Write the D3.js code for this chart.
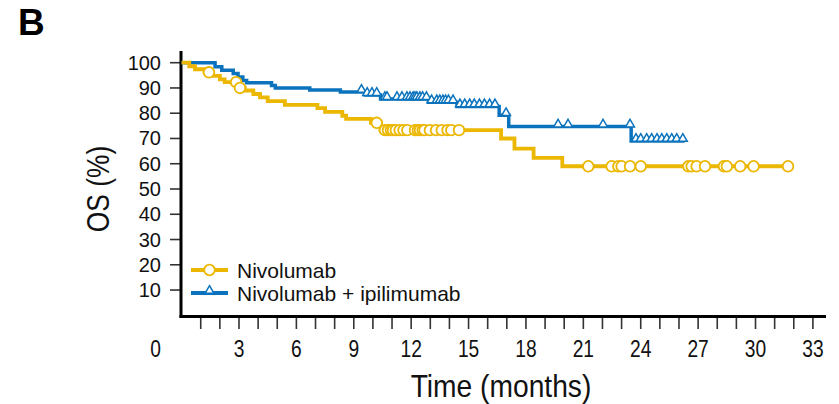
<!DOCTYPE html>
<html><head><meta charset="utf-8">
<script src="https://cdn.jsdelivr.net/npm/d3@7"></script>
<style>
html,body{margin:0;padding:0;background:#fff;}
svg{display:block;}
</style></head>
<body>
<svg id="chart" width="839" height="404"></svg>
<script>
// ---- data ----
const seriesNames = ["Nivolumab", "Nivolumab + ipilimumab"];
// Kaplan-Meier steps [month, OS %]
const nivoSteps = [[0,100],[0.4,98.6],[0.7,97.4],[1.2,96.2],[1.65,94.8],[2.0,93.4],[2.25,92.3],[2.95,90.0],[3.3,89.0],[3.75,87.6],[4.1,86.3],[4.5,84.8],[5.4,83.3],[7.1,82.0],[7.5,80.5],[8.4,79.0],[8.6,77.8],[9.9,76.2],[10.4,73.3],[16.7,70.0],[17.4,66.0],[18.4,62.3],[19.9,59.0],[31.75,59.0]];
const nivoCensor = [1.43,2.85,3.05,10.2,10.63,10.79,10.94,11.05,11.2,11.4,11.6,11.8,12.2,12.35,12.46,12.6,12.7,12.98,13.3,13.6,13.9,14.1,14.5,21.26,22.48,22.83,23.0,23.44,24.0,26.49,26.66,26.92,27.36,28.35,28.5,29.2,29.9,31.7];
const comboSteps = [[0,100],[1.75,98.4],[2.1,97.0],[2.7,95.7],[2.95,94.3],[3.2,93.0],[3.4,92.1],[4.7,91.0],[4.9,90.0],[6.7,89.2],[8.3,88.4],[9.6,87.2],[10.4,85.6],[12.9,84.3],[14.4,82.7],[16.6,79.2],[17.1,74.7],[23.5,69.0],[26.3,69.0]];
const comboCensor = [9.4,9.7,9.95,10.2,10.63,10.74,11.26,11.52,11.78,11.94,12.1,12.2,12.3,12.46,12.6,12.8,13.07,13.34,13.5,13.66,13.8,13.95,14.19,14.55,14.8,15.06,15.3,15.57,15.83,16.1,16.38,16.96,19.68,20.2,22.03,23.44,23.75,24.0,24.31,24.57,24.85,25.1,25.36,25.62,25.88,26.2];
const yTicks = [10,20,30,40,50,60,70,80,90,100];
const xMinorTicks = d3.range(1,34);
const xTickLabels = [0,3,6,9,12,15,18,21,24,27,30,33];

const YELLOW = "#EBB700", BLUE = "#0B73BD";
const FONT = "Liberation Sans, Arial, sans-serif";
const svg = d3.select("#chart");
const x = d3.scaleLinear().domain([0,33]).range([181.6,812.9]);
const y = d3.scaleLinear().domain([0,100]).range([315.3,62.7]);

// panel label
svg.append("text").attr("x",18).attr("y",35).attr("font-family",FONT)
  .attr("font-weight","bold").attr("font-size",37).text("B");

// y ticks
const gy = svg.append("g");
gy.selectAll("line").data(yTicks).join("line")
  .attr("x1",170).attr("x2",181).attr("y1",d=>y(d)).attr("y2",d=>y(d))
  .attr("stroke","#333").attr("stroke-width",1.6);
gy.selectAll("text").data(yTicks).join("text")
  .attr("x",161).attr("y",d=>y(d)+7).attr("text-anchor","end")
  .attr("font-family",FONT).attr("font-size",20).attr("fill","#111")
  .text(d=>d);

// x ticks
const gx = svg.append("g");
gx.selectAll("line").data(xMinorTicks).join("line")
  .attr("x1",d=>x(d)).attr("x2",d=>x(d)).attr("y1",317).attr("y2",329)
  .attr("stroke","#333").attr("stroke-width",1.6);
gx.selectAll("text").data(xTickLabels).join("text")
  .attr("transform",d=>`translate(${d===0 ? x(d)-26 : x(d)},357) scale(0.8,1)`).attr("text-anchor","middle")
  .attr("font-family",FONT).attr("font-size",24).attr("fill","#111")
  .text(d=>d);

// axis lines
svg.append("line").attr("x1",181).attr("x2",181).attr("y1",51).attr("y2",318).attr("stroke","#000").attr("stroke-width",3);
svg.append("line").attr("x1",179.5).attr("x2",826).attr("y1",316.5).attr("y2",316.5).attr("stroke","#000").attr("stroke-width",3);

// axis titles
svg.append("text").attr("transform","translate(501,397) scale(0.91,1)").attr("text-anchor","middle")
  .attr("font-family",FONT).attr("font-size",31).attr("fill","#111")
  .text("Time (months)");
svg.append("text").attr("transform","translate(109,189) rotate(-90) scale(0.85,1)").attr("text-anchor","middle")
  .attr("font-family",FONT).attr("font-size",31).attr("fill","#111")
  .text("OS (%)");

// curves
const line = d3.line().x(d=>x(d[0])).y(d=>y(d[1])).curve(d3.curveStepAfter);
function stepValue(steps,t){let v=steps[0][1];for(const s of steps){if(s[0]<=t)v=s[1];}return v;}

svg.append("path").datum(comboSteps).attr("d",line).attr("fill","none").attr("stroke",BLUE).attr("stroke-width",3.5);
const tri = d3.symbol().type(d3.symbolTriangle).size(34);
svg.append("g").selectAll("path").data(comboCensor).join("path")
  .attr("d",tri).attr("transform",d=>`translate(${x(d)},${y(stepValue(comboSteps,d))-2.2})`)
  .attr("fill","#fff").attr("stroke",BLUE).attr("stroke-width",1.5);

svg.append("path").datum(nivoSteps).attr("d",line).attr("fill","none").attr("stroke",YELLOW).attr("stroke-width",3.8);
svg.append("g").selectAll("circle").data(nivoCensor).join("circle")
  .attr("cx",d=>x(d)).attr("cy",d=>y(stepValue(nivoSteps,d))).attr("r",5.3)
  .attr("fill","#fff").attr("stroke",YELLOW).attr("stroke-width",1.8);

// legend
const lg = svg.append("g");
const legendRows = [{name:seriesNames[0],color:YELLOW,ly:270},{name:seriesNames[1],color:BLUE,ly:293}];
legendRows.forEach((r,i)=>{
  lg.append("line").attr("x1",191).attr("x2",228).attr("y1",r.ly).attr("y2",r.ly).attr("stroke",r.color).attr("stroke-width",3.8);
  if(i===0){
    lg.append("circle").attr("cx",209.5).attr("cy",r.ly).attr("r",5.3).attr("fill","#fff").attr("stroke",r.color).attr("stroke-width",1.8);
  } else {
    lg.append("path").attr("d",tri).attr("transform",`translate(209.5,${r.ly-2.2})`).attr("fill","#fff").attr("stroke",r.color).attr("stroke-width",1.5);
  }
  lg.append("text").attr("x",237).attr("y",r.ly+7.5).attr("font-family",FONT)
    .attr("font-size",21).attr("fill","#111").text(r.name);
});
</script>
</body></html>
